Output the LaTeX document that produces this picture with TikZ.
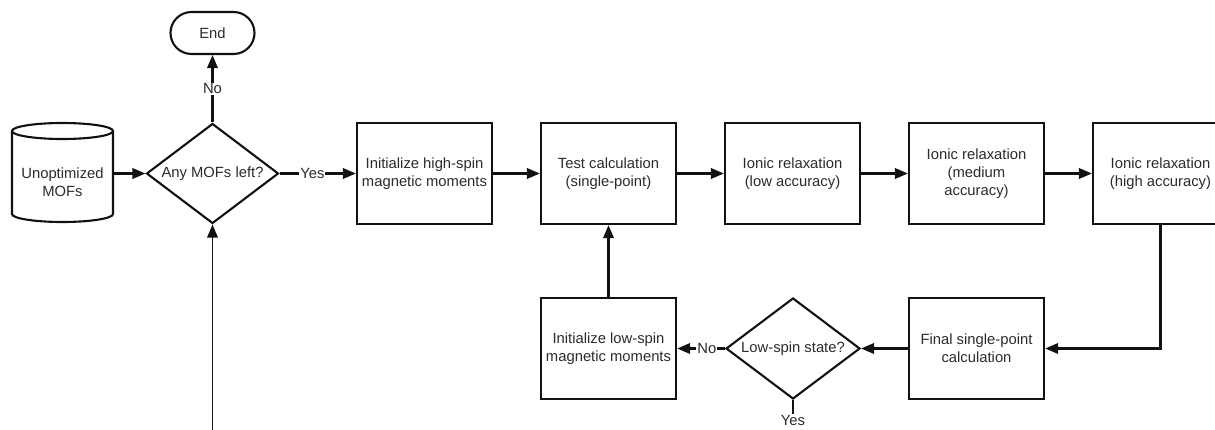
\documentclass[tikz,border=0pt]{standalone}
\usepackage{fontspec}
\setmainfont{Liberation Sans}
\usetikzlibrary{shapes.geometric,arrows.meta}
\definecolor{inkline}{HTML}{111111}
\definecolor{inktext}{HTML}{2B2B2B}
\begin{document}
\begin{tikzpicture}[x=1pt,y=-1pt,
  every node/.style={font=\fontsize{14.8}{18.3}\selectfont, text=inktext},
  stepbox/.style={draw=inkline, line width=2.3pt, minimum width=135pt,
    minimum height=101pt, align=center, inner sep=0pt},
  decision/.style={diamond, draw=inkline, line width=2.1pt, aspect=1.32,
    minimum width=132pt, minimum height=100pt, inner sep=0pt, align=center},
  terminal/.style={draw=inkline, line width=2.1pt, rounded corners=21pt,
    minimum width=84pt, minimum height=42pt, inner sep=0pt},
  plain/.style={draw=inkline, line width=2.1pt},
  flow/.style={plain, -{Triangle[length=13pt,width=10.5pt]}},
  edgelabel/.style={fill=white, inner sep=1pt}
]
\useasboundingbox (0,0) rectangle (1215,430);
\clip (0,0) rectangle (1215,430);

% input database (cylinder)
\node[minimum width=101pt, minimum height=101pt, inner sep=0pt] (db) at (62.5,173.5) {};
\draw[plain] (12,131) -- (12,214)
  arc[start angle=180, end angle=360, x radius=50.5pt, y radius=8pt] -- (113,131);
\draw[plain] (62.5,131) ellipse [x radius=50.5pt, y radius=8pt];
\node[align=center] (dbtext) at (62.5,182) {Unoptimized\\MOFs};

% main loop
\node[decision] (anymofs) at (212.5,173.5) {Any MOFs left?};
\node[terminal] (end) at (212.5,33) {End};

% top row of calculation steps
\node[stepbox] (highspin)  at (424.5,173.5) {Initialize high-spin\\magnetic moments};
\node[stepbox] (testcalc)  at (608.5,173.5) {Test calculation\\(single-point)};
\node[stepbox] (ioniclow)  at (792.5,173.5) {Ionic relaxation\\(low accuracy)};
\node[stepbox] (ionicmed)  at (976.5,173.5) {Ionic relaxation\\(medium\\accuracy)};
\node[stepbox] (ionichigh) at (1160.5,173.5) {Ionic relaxation\\(high accuracy)};

% bottom row
\node[stepbox] (final)   at (976.5,348.5) {Final single-point\\calculation};
\node[decision, minimum width=134pt, minimum height=101pt] (lowq) at (793,348.5) {Low-spin state?};
\node[stepbox] (lowspin) at (608.5,348.5) {Initialize low-spin\\magnetic moments};

\coordinate (loopin) at (212.5,440);
\coordinate (yesend) at (793,420);

% connectors
\draw[flow] (db.east) -- (anymofs.west);
\draw[flow] (anymofs.north) -- node[edgelabel, pos=0.5]{No} (end.south);
\draw[flow] (anymofs.east) -- node[edgelabel, pos=0.43]{Yes} (highspin.west);
\draw[flow] (highspin) -- (testcalc);
\draw[flow] (testcalc) -- (ioniclow);
\draw[flow] (ioniclow) -- (ionicmed);
\draw[flow] (ionicmed) -- (ionichigh);
\draw[flow] (ionichigh.south) |- (final.east);
\draw[flow] (final.west) -- (lowq.east);
\draw[flow] (lowq.west) -- node[edgelabel, pos=0.38]{No} (lowspin.east);
\draw[plain] (lowq.south) -- node[edgelabel, pos=1]{Yes} (yesend);
\draw[flow] (lowspin.north) -- (testcalc.south);
\draw[flow, line width=1.7pt] (loopin) -- (anymofs.south);
\end{tikzpicture}
\end{document}
